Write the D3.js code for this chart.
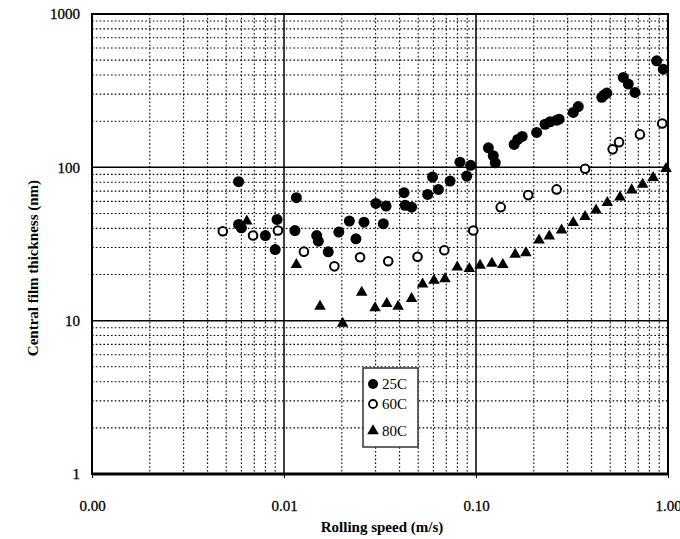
<!DOCTYPE html>
<html>
<head>
<meta charset="utf-8">
<script src="https://cdn.jsdelivr.net/npm/d3@7"></script>
<style>
body { margin: 0; background: #fff; }
svg { font-family: "Liberation Serif", "DejaVu Serif", serif; }
</style>
</head>
<body>
<svg id="chart" width="680" height="539"></svg>
<script>
// rolling speed (m/s) and central film thickness (nm)
var speed25 = [0.0058,0.0058,0.0060,0.0080,0.0092,0.0090,0.0116,0.0114,0.0148,0.0151,0.0170,0.0193,0.0219,0.0237,0.0261,0.0301,0.0329,0.0340,0.0422,0.0427,0.0462,0.0560,0.0594,0.0637,0.0733,0.0825,0.0938,0.0895,0.116,0.123,0.126,0.158,0.165,0.174,0.207,0.229,0.243,0.263,0.271,0.321,0.341,0.452,0.464,0.480,0.585,0.621,0.673,0.873,0.945];
var film25  = [80.6,42.4,40.3,35.9,45.7,29.1,63.4,38.7,35.9,33.0,28.1,37.8,44.6,34.2,43.9,58.2,42.9,55.9,68.3,56.5,55.0,66.6,86.4,71.8,81.4,108,103,87.7,134,119,107,141,152,159,169,191,198,203,206,228,249,286,296,305,386,349,308,495,437];

var speed60 = [0.0048,0.0069,0.0093,0.0127,0.0183,0.0249,0.0349,0.0496,0.0684,0.0968,0.1345,0.187,0.263,0.370,0.515,0.556,0.714,0.933];
var film60  = [38.3,35.9,38.7,28.2,22.6,25.9,24.4,26.1,28.8,38.7,55.0,65.9,71.8,98.0,131,146,164,193];

var speed80 = [0.0064,0.0116,0.0154,0.0202,0.0254,0.0298,0.0343,0.0393,0.0462,0.0527,0.0604,0.0689,0.0799,0.0923,0.105,0.121,0.138,0.160,0.182,0.213,0.241,0.279,0.321,0.370,0.422,0.483,0.562,0.647,0.738,0.837,0.977];
var film80  = [44.6,23.2,12.4,9.6,15.3,12.1,12.9,12.4,13.9,17.3,18.3,18.7,22.3,21.8,22.9,23.6,23.2,27.0,27.7,33.5,35.6,38.9,43.5,47.6,52.6,58.8,63.9,71.1,77.4,85.6,98.0];

var xTicks = [0.001, 0.01, 0.1, 1];
var yTicks = [1, 10, 100, 1000];
var seriesNames = ["25C", "60C", "80C"];

var svg = d3.select("#chart");
var plotL = 92, plotR = 668, plotT = 14, plotB = 474;

var x = d3.scaleLog().domain([0.001, 1]).range([plotL, plotR]);
var y = d3.scaleLog().domain([1, 1000]).range([plotB, plotT]);

// minor grid values 2..9 in each decade
var minorX = [], minorY = [];
[0.001, 0.01, 0.1].forEach(function(d) {
  for (var k = 2; k <= 9; k++) minorX.push(d * k);
});
[1, 10, 100].forEach(function(d) {
  for (var k = 2; k <= 9; k++) minorY.push(d * k);
});

var grid = svg.append("g");
grid.selectAll(".mx").data(minorX).enter().append("line")
  .attr("x1", function(d) { return x(d); }).attr("x2", function(d) { return x(d); })
  .attr("y1", plotT).attr("y2", plotB)
  .attr("stroke", "#000").attr("stroke-width", 1.1).attr("stroke-dasharray", "1.6,2.2");
grid.selectAll(".my").data(minorY).enter().append("line")
  .attr("y1", function(d) { return y(d); }).attr("y2", function(d) { return y(d); })
  .attr("x1", plotL).attr("x2", plotR)
  .attr("stroke", "#000").attr("stroke-width", 1.1).attr("stroke-dasharray", "1.6,2.2");
grid.selectAll(".Mx").data(xTicks.slice(1, 3)).enter().append("line")
  .attr("x1", function(d) { return x(d); }).attr("x2", function(d) { return x(d); })
  .attr("y1", plotT).attr("y2", plotB)
  .attr("stroke", "#000").attr("stroke-width", 1.5);
grid.selectAll(".My").data(yTicks.slice(1, 3)).enter().append("line")
  .attr("y1", function(d) { return y(d); }).attr("y2", function(d) { return y(d); })
  .attr("x1", plotL).attr("x2", plotR)
  .attr("stroke", "#000").attr("stroke-width", 1.5);

// frame
svg.append("rect")
  .attr("x", plotL).attr("y", plotT)
  .attr("width", plotR - plotL).attr("height", plotB - plotT)
  .attr("fill", "none").attr("stroke", "#000").attr("stroke-width", 2);
svg.append("line")
  .attr("x1", plotL).attr("x2", plotR).attr("y1", plotB).attr("y2", plotB)
  .attr("stroke", "#000").attr("stroke-width", 3);

// axes
var xAxis = svg.append("g")
  .attr("transform", "translate(0," + plotB + ")")
  .call(d3.axisBottom(x).tickValues(xTicks).tickFormat(d3.format(".2f")).tickSize(4).tickPadding(22));
xAxis.select(".domain").remove();
xAxis.selectAll("text").attr("font-size", 15).attr("fill", "#000")
  .attr("font-family", "Liberation Serif").attr("stroke", "#000").attr("stroke-width", 0.3);

var yAxis = svg.append("g")
  .attr("transform", "translate(" + plotL + ",0)")
  .call(d3.axisLeft(y).tickValues(yTicks).tickFormat(d3.format("d")).tickSize(0).tickPadding(12));
yAxis.select(".domain").remove();
yAxis.selectAll("text").attr("font-size", 15).attr("fill", "#000")
  .attr("font-family", "Liberation Serif").attr("stroke", "#000").attr("stroke-width", 0.3);

svg.append("text")
  .attr("x", 382).attr("y", 532)
  .attr("text-anchor", "middle")
  .attr("font-size", 15).attr("font-weight", "bold")
  .text("Rolling speed (m/s)");

svg.append("text")
  .attr("transform", "translate(38,268) rotate(-90)")
  .attr("text-anchor", "middle")
  .attr("font-size", 15).attr("font-weight", "bold")
  .text("Central film thickness (nm)");

// points
var tri = d3.symbol().type(d3.symbolTriangle).size(58);

function pairs(xs, ys) {
  return xs.map(function(d, i) { return [d, ys[i]]; });
}

var pts = svg.append("g");
pts.selectAll(".s80").data(pairs(speed80, film80)).enter().append("path")
  .attr("d", tri)
  .attr("transform", function(d) { return "translate(" + x(d[0]) + "," + y(d[1]) + ")"; })
  .attr("fill", "#000");
pts.selectAll(".s60").data(pairs(speed60, film60)).enter().append("circle")
  .attr("cx", function(d) { return x(d[0]); })
  .attr("cy", function(d) { return y(d[1]); })
  .attr("r", 4.3)
  .attr("fill", "#fff").attr("stroke", "#000").attr("stroke-width", 2);
pts.selectAll(".s25").data(pairs(speed25, film25)).enter().append("circle")
  .attr("cx", function(d) { return x(d[0]); })
  .attr("cy", function(d) { return y(d[1]); })
  .attr("r", 5.5)
  .attr("fill", "#000");

// legend
var lg = svg.append("g").attr("transform", "translate(363,368)");
lg.append("rect")
  .attr("width", 55).attr("height", 79)
  .attr("fill", "#fff").attr("stroke", "#333").attr("stroke-width", 1.5);
var rowY = [16, 36, 63];
lg.append("circle").attr("cx", 10).attr("cy", rowY[0]).attr("r", 5).attr("fill", "#000");
lg.append("circle").attr("cx", 10).attr("cy", rowY[1]).attr("r", 4).attr("fill", "#fff")
  .attr("stroke", "#000").attr("stroke-width", 1.8);
lg.append("path").attr("d", tri).attr("transform", "translate(10," + rowY[2] + ")").attr("fill", "#000");
lg.selectAll(".lt").data(seriesNames).enter().append("text")
  .attr("x", 19)
  .attr("y", function(d, i) { return rowY[i]; })
  .attr("dy", "0.35em")
  .attr("font-size", 15)
  .text(function(d) { return d; });
</script>
</body>
</html>
